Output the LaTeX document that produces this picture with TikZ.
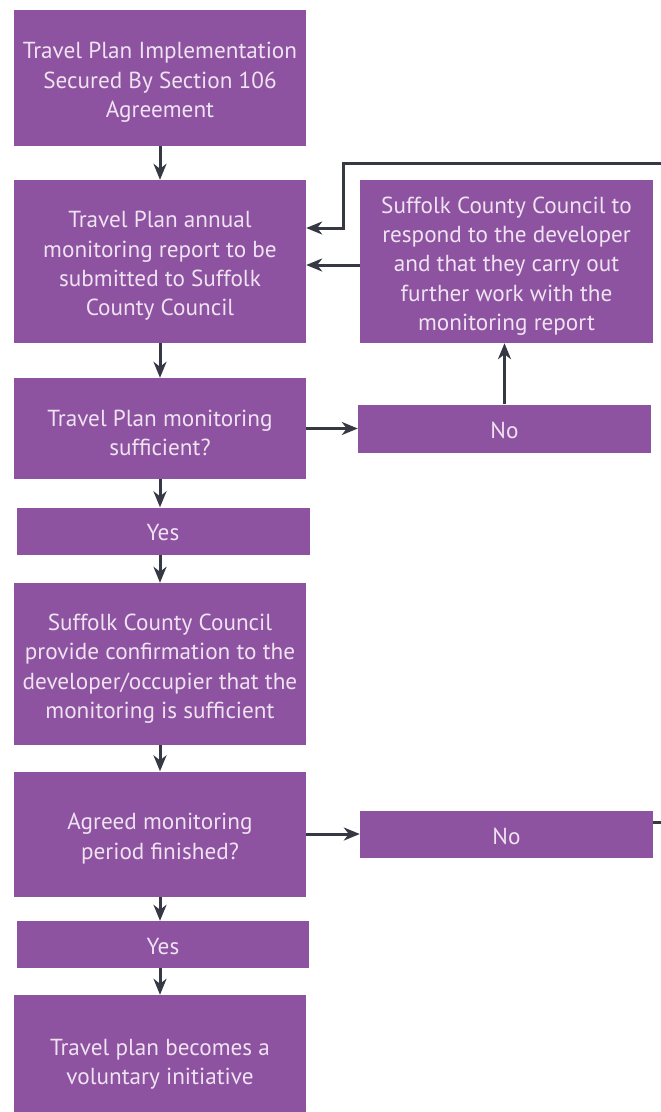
\documentclass[tikz,border=0pt]{standalone}
\usepackage{fontspec}
\setmainfont{PT Sans}
\usetikzlibrary{arrows.meta}
\definecolor{boxpurple}{HTML}{8D52A0}
\definecolor{boxtext}{HTML}{EFE3F2}
\definecolor{arrowgray}{HTML}{363943}
\begin{document}
\begin{tikzpicture}[x=1pt,y=-1pt,
  box/.style={fill=boxpurple,inner sep=0pt,anchor=center},
  boxtxt/.style={text=boxtext,inner sep=0pt,align=center,
    font=\fontsize{23.2}{29.4}\selectfont},
  multi/.style={label={[boxtxt,yshift=-4.5pt]center:{#1}}},
  single/.style={label={[boxtxt,yshift=-2pt]center:{#1}}},
  arr/.style={draw=arrowgray,line width=3pt,-{Stealth[length=16pt,width=13pt,inset=5pt]}},
  ln/.style={draw=arrowgray,line width=3pt}]
\useasboundingbox (0,0) rectangle (661,1112);
\fill[white] (0,0) rectangle (661,1112);
\node[box,minimum width=292pt,minimum height=136pt,
  multi={Travel Plan Implementation\\Secured By Section 106\\Agreement}] (b1) at (160,78) {};
\node[box,minimum width=292pt,minimum height=163pt,
  multi={Travel Plan annual\\monitoring report to be\\submitted to Suffolk\\County Council}] (b2) at (160,261.5) {};
\node[box,minimum width=293pt,minimum height=163pt,
  multi={Suffolk County Council to\\respond to the developer\\and that they carry out\\further work with the\\monitoring report}] (rb) at (506.5,261.5) {};
\node[box,minimum width=292pt,minimum height=101pt,
  multi={Travel Plan monitoring\\sufficient?}] (b3) at (160,428.5) {};
\node[box,minimum width=293pt,minimum height=48pt,single={No}] (n1) at (504.5,428.5) {};
\node[box,minimum width=293pt,minimum height=47pt,single={Yes}] (y1) at (163,531) {};
\node[box,minimum width=292pt,minimum height=162pt,
  multi={Suffolk County Council\\provide confirmation to the\\developer/occupier that the\\monitoring is sufficient}] (b4) at (160,664) {};
\node[box,minimum width=292pt,minimum height=125pt,
  multi={Agreed monitoring\\period finished?}] (b5) at (160,834) {};
\node[box,minimum width=293pt,minimum height=47pt,single={No}] (n2) at (506.5,834) {};
\node[box,minimum width=292pt,minimum height=47pt,single={Yes}] (y2) at (163,944.5) {};
\node[box,minimum width=292pt,minimum height=130pt,
  multi={Travel plan becomes a\\voluntary initiative}] (b6) at (160,1060) {};
% vertical arrows
\draw[arr] (b1.south) -- (b2.north);
\draw[arr] (b2.south) -- (b3.north);
\draw[arr] (b3.south) -- ([xshift=-3pt]y1.north);
\draw[arr] ([xshift=-3pt]y1.south) -- (b4.north);
\draw[arr] (b4.south) -- (b5.north);
\draw[arr] (b5.south) -- ([xshift=-3pt]y2.north);
\draw[arr] ([xshift=-3pt]y2.south) -- (b6.north);
% horizontal arrows
\draw[arr] (b3.east) -- (n1.west);
\draw[arr] (b5.east) -- (n2.west);
\draw[arr] (n1.north) -- (n1.north |- rb.south);
\coordinate (rbIn) at (360,265);
\draw[arr] (rbIn) -- (rbIn -| b2.east);
% feedback loop from right edge
\coordinate (fbR) at (661,163);
\coordinate (fbC) at (343,228);
\draw[arr] (fbR) -| (fbC) -- (fbC -| b2.east);
\coordinate (n2R) at (661,822);
\draw[ln] (n2.east |- n2R) -- (n2R);
\end{tikzpicture}
\end{document}
